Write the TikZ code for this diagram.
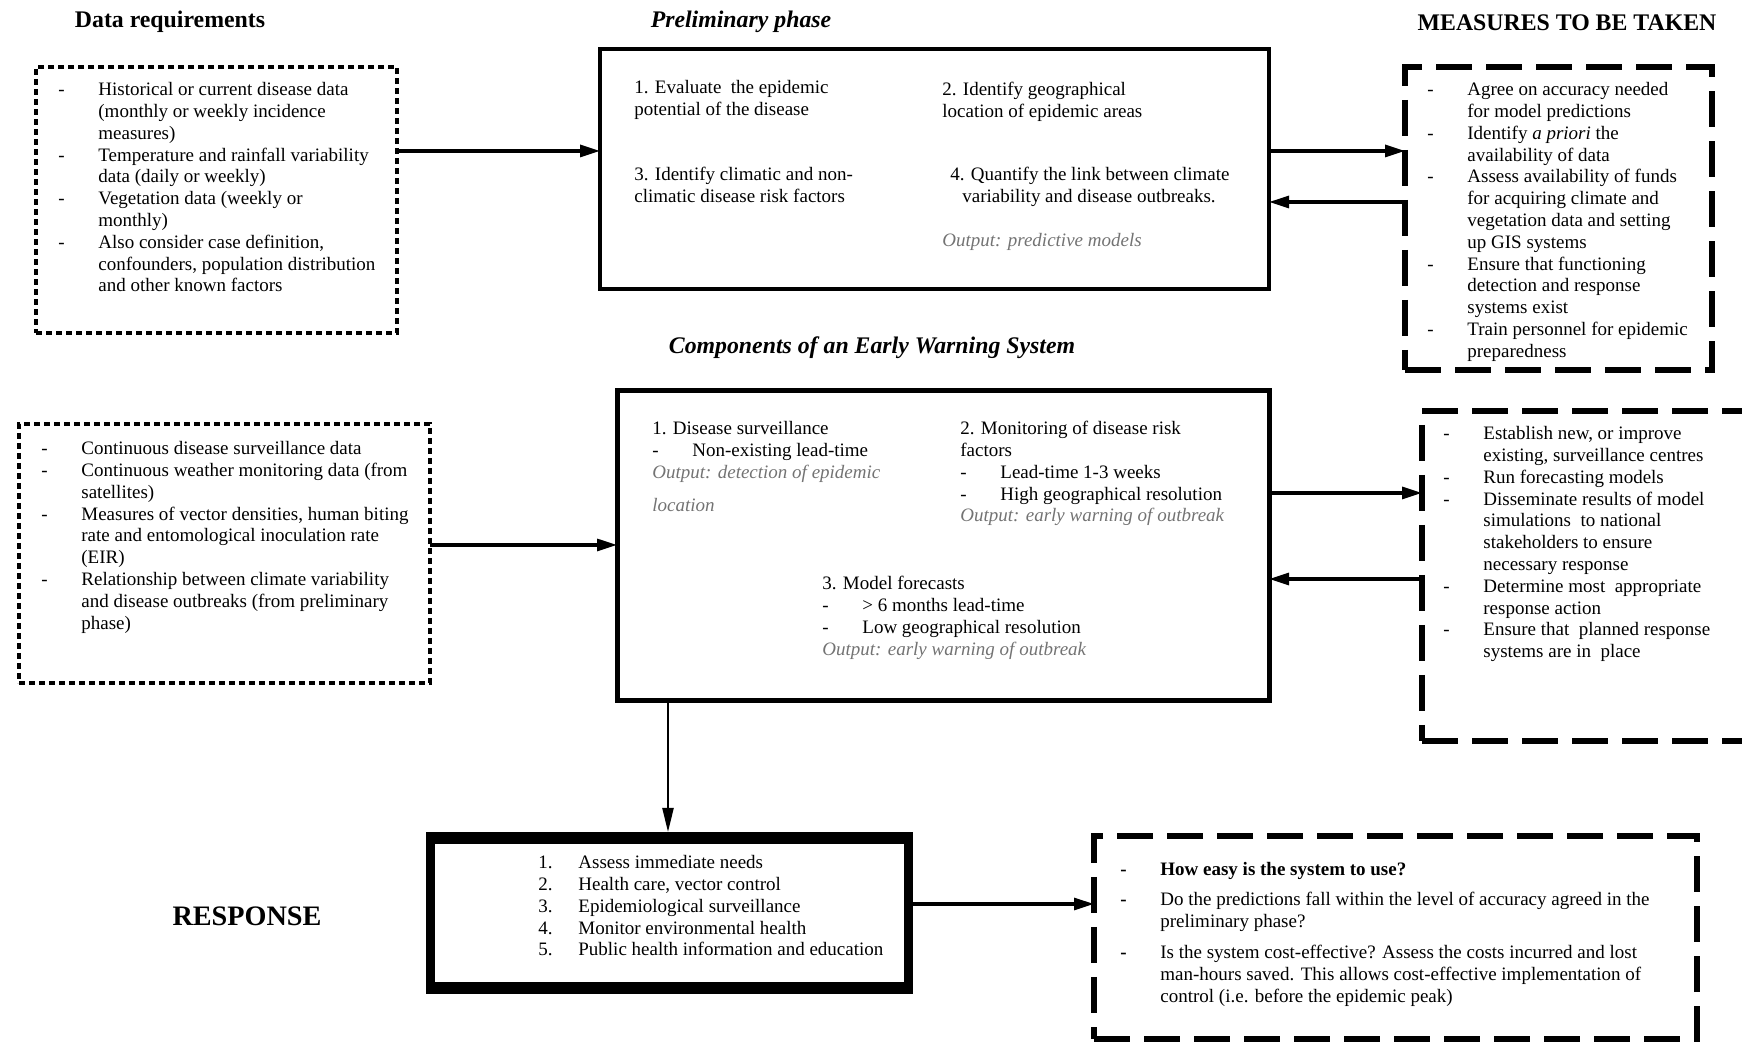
\documentclass[tikz,border=0pt]{standalone}
\usepackage{fontspec}
\setmainfont{Liberation Serif}
\usetikzlibrary{arrows.meta}
\newcommand\dsh{\makebox[20pt][l]{-}}
\newcommand\dshb{\makebox[20pt][l]{\textbf{-}}}
\newcommand\ind{\hspace*{20pt}}
\newcommand\numb[1]{\makebox[20pt][l]{#1}}
\newcommand\outp[1]{\textcolor{black!55}{\textit{#1}}}

\begin{document}
\begin{tikzpicture}[x=0.5pt, y=-0.5pt]
	\tikzset{
	    box/.style= {inner sep=0pt, outer sep=0pt},
	    dotbox/.style= {box, draw, line width=2.2pt, dash pattern=on 3pt off 2pt},
	    dashbox/.style= {box, draw, line width=2.8pt, dash pattern=on 18pt off 7pt},
	    solidbox/.style= {box, draw, line width=2.3pt},
	    txt/.style= {anchor=north west, align=left, inner sep=0pt, font=\fontsize{9.5}{10.9}\selectfont},
	    ttl/.style= {anchor=base, inner sep=0pt, font=\fontsize{11.9}{13}\selectfont\bfseries},
	    ttlit/.style= {ttl, font=\fontsize{11.9}{13}\selectfont\bfseries\itshape},
	    arr/.style= {-{Triangle[length=10pt,width=6pt]}, line width=1.6pt},
	}
	\useasboundingbox (0,0) rectangle (1742,1042);
	\clip (0,0) rectangle (1742,1042);
	
	\node[ttl] (tdata) at (170,28) {Data requirements};
	\node[ttlit] (tprelim) at (741,28) {Preliminary phase};
	\node[ttl] (tmeasures) at (1567,31) {MEASURES TO BE TAKEN};
	\node[ttlit] (tews) at (872,354) {Components of an Early Warning System};
	\node[ttl, font=\fontsize{14.1}{16}\selectfont\bfseries] (tresp) at (247,926) {RESPONSE};
	
	\node[dotbox, minimum width=180.5pt, minimum height=133pt] (datareq) at (216.5,200) {};
	\node[solidbox, minimum width=334.5pt, minimum height=120pt] (prelim) at (934.5,169) {};
	\node[dashbox, minimum width=153.5pt, minimum height=151.5pt] (measures) at (1558.5,218.5) {};
	\node[dotbox, minimum width=205.5pt, minimum height=129.5pt] (datacomp) at (224.5,553.5) {};
	\node[solidbox, line width=2.5pt, minimum width=326pt, minimum height=155pt] (ews) at (943,546) {};
	\node[dashbox, minimum width=189pt, minimum height=165pt] (actions) at (1611,576) {};
	\node[box, fill=black, minimum width=243.5pt, minimum height=81pt] (resp) at (669.5,913) {};
	\node[box, fill=white, minimum width=234.5pt, minimum height=69pt] (respin) at (669.5,913) {};
	\node[dashbox, minimum width=301.5pt, minimum height=101.5pt] (evalbox) at (1395.5,937.5) {};
	
	\node[txt] (dr1) at (58,80) {\strut\dsh Historical or current disease data\\ \ind (monthly or weekly incidence\\ \ind measures)\\
	  \dsh Temperature and rainfall variability\\ \ind data (daily or weekly)\\ \dsh Vegetation data (weekly or\\ \ind monthly)\\
	  \dsh Also consider case definition,\\ \ind confounders, population distribution\\ \ind and other known factors};
	
	\node[txt] (pp1) at (634,78) {\strut 1. Evaluate\ \ the epidemic\\ potential of the disease};
	\node[txt] (pp2) at (942,80) {\strut 2. Identify geographical\\ location of epidemic areas};
	\node[txt] (pp3) at (634,165) {\strut 3. Identify climatic and non-\\ climatic disease risk factors};
	\node[txt] (pp4) at (950,165) {\strut 4. Quantify the link between climate\\ \hspace*{6pt}variability and disease outbreaks.};
	\node[txt] (pp5) at (942,231) {\strut\outp{Output: predictive models}};
	
	\node[txt] (ms1) at (1427,80) {\strut\dsh Agree on accuracy needed\\ \ind for model predictions\\ \dsh Identify \textit{a priori} the\\ \ind availability of data\\
	  \dsh Assess availability of funds\\ \ind for acquiring climate and\\ \ind vegetation data and setting\\ \ind up GIS systems\\
	  \dsh Ensure that functioning\\ \ind detection and response\\ \ind systems exist\\ \dsh Train personnel for epidemic\\ \ind preparedness};
	
	\node[txt] (dc1) at (41,439) {\strut\dsh Continuous disease surveillance data\\ \dsh Continuous weather monitoring data (from\\ \ind satellites)\\
	  \dsh Measures of vector densities, human biting\\ \ind rate and entomological inoculation rate\\ \ind (EIR)\\
	  \dsh Relationship between climate variability\\ \ind and disease outbreaks (from preliminary\\ \ind phase)};
	
	\node[txt] (ew1) at (652,419) {\strut 1. Disease surveillance\\ \dsh Non-existing lead-time\\ \outp{Output: detection of epidemic}\\[5.5pt] \outp{location}};
	\node[txt] (ew2) at (960,419) {\strut 2. Monitoring of disease risk\\ factors\\ \dsh Lead-time 1-3 weeks\\ \dsh High geographical resolution\\ \outp{Output: early warning of outbreak}};
	\node[txt] (ew3) at (822,574) {\strut 3. Model forecasts\\ \dsh > 6 months lead-time\\ \dsh Low geographical resolution\\ \outp{Output: early warning of outbreak}};
	
	\node[txt] (ac1) at (1443,424) {\strut\dsh Establish new, or improve\\ \ind existing, surveillance centres\\ \dsh Run forecasting models\\
	  \dsh Disseminate results of model\\ \ind simulations\ \ to national\\ \ind stakeholders to ensure\\ \ind necessary response\\
	  \dsh Determine most\ \ appropriate\\ \ind response action\\ \dsh Ensure that\ \ planned response\\ \ind systems are in\ \ place};
	
	\node[txt] (rs1) at (538,853) {\strut\numb{1.}Assess immediate needs\\ \numb{2.}Health care, vector control\\ \numb{3.}Epidemiological surveillance\\
	  \numb{4.}Monitor environmental health\\ \numb{5.}Public health information and education};
	
	\node[txt] (ev1) at (1120,860) {\strut\dshb\textbf{How easy is the system to use?}\\[4.1pt]
	  \dshb Do the predictions fall within the level of accuracy agreed in the\\ \ind preliminary phase?\\[4.6pt]
	  \dshb Is the system cost-effective? Assess the costs incurred and lost\\ \ind man-hours saved. This allows cost-effective implementation of\\ \ind control (i.e. before the epidemic peak)};
	
	\draw[arr] (datareq.east |- 0,151) -- (prelim.west |- 0,151);
	\draw[arr] (prelim.east |- 0,151) -- (measures.west |- 0,151);
	\draw[arr] (measures.west |- 0,202) -- (prelim.east |- 0,202);
	\draw[arr] (datacomp.east |- 0,545) -- (ews.west |- 0,545);
	\draw[arr] (ews.east |- 0,493) -- (actions.west |- 0,493);
	\draw[arr] (actions.west |- 0,579) -- (ews.east |- 0,579);
	\draw[arr, line width=1.2pt, -{Triangle[length=12pt,width=5.5pt]}] (ews.south -| 668,0) -- (resp.north -| 668,0);
	\draw[arr] (resp.east |- 0,904) -- (evalbox.west |- 0,904);
\end{tikzpicture}
\end{document}
